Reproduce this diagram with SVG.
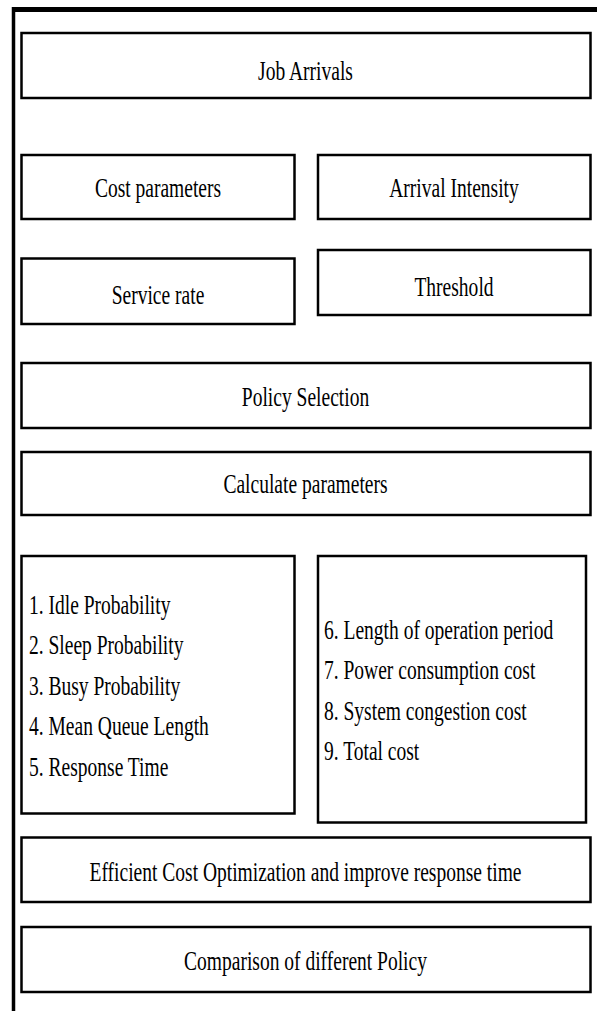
<svg xmlns="http://www.w3.org/2000/svg" width="601" height="1011" viewBox="0 0 601 1011">
<style>
.box{fill:#fff;stroke:#000;stroke-width:2.5}
.t{font-family:"Liberation Serif","Times New Roman",serif;font-size:28px;fill:#000}
.c{text-anchor:middle}
</style>
<rect width="601" height="1011" fill="#fff"/>
<g id="frame">
<line x1="13.5" y1="7" x2="13.5" y2="1011" stroke="#000" stroke-width="3.5"/>
<line x1="12" y1="9.5" x2="597" y2="9.5" stroke="#000" stroke-width="5"/>
</g>
<g id="connectors"></g>
<g id="job-arrivals"><rect class="box" x="21.5" y="33" width="569" height="65"/><text class="t c" transform="translate(305.5,80) scale(0.697,1)">Job Arrivals</text></g>
<g id="cost-parameters"><rect class="box" x="21.5" y="155" width="273" height="64"/><text class="t c" transform="translate(158,196.5) scale(0.697,1)">Cost parameters</text></g>
<g id="arrival-intensity"><rect class="box" x="318" y="155" width="272.5" height="64"/><text class="t c" transform="translate(454,196.5) scale(0.697,1)">Arrival Intensity</text></g>
<g id="service-rate"><rect class="box" x="21.5" y="258.5" width="273" height="65.5"/><text class="t c" transform="translate(158,303.5) scale(0.697,1)">Service rate</text></g>
<g id="threshold"><rect class="box" x="318" y="250" width="272.5" height="65"/><text class="t c" transform="translate(454,295.5) scale(0.697,1)">Threshold</text></g>
<g id="policy-selection"><rect class="box" x="21.5" y="363" width="569" height="65"/><text class="t c" transform="translate(305.5,405.5) scale(0.697,1)">Policy Selection</text></g>
<g id="calculate-parameters"><rect class="box" x="21.5" y="452" width="569" height="63"/><text class="t c" transform="translate(305.5,492.5) scale(0.697,1)">Calculate parameters</text></g>
<g id="metrics-left"><rect class="box" x="21.5" y="556" width="273" height="257.5"/>
<text class="t" transform="translate(29,613.5) scale(0.697,1)">1. Idle Probability</text>
<text class="t" transform="translate(29,654) scale(0.697,1)">2. Sleep Probability</text>
<text class="t" transform="translate(29,694.5) scale(0.697,1)">3. Busy Probability</text>
<text class="t" transform="translate(29,735) scale(0.697,1)">4. Mean Queue Length</text>
<text class="t" transform="translate(29,775.5) scale(0.697,1)">5. Response Time</text>
</g>
<g id="metrics-right"><rect class="box" x="318" y="556" width="268" height="266.5"/>
<text class="t" transform="translate(324,638.5) scale(0.697,1)">6. Length of operation period</text>
<text class="t" transform="translate(324,679) scale(0.697,1)">7. Power consumption cost</text>
<text class="t" transform="translate(324,719.5) scale(0.697,1)">8. System congestion cost</text>
<text class="t" transform="translate(324,760) scale(0.697,1)">9. Total cost</text>
</g>
<g id="efficient-cost"><rect class="box" x="21.5" y="837.5" width="569" height="64.5"/><text class="t c" transform="translate(305.5,880.5) scale(0.697,1)">Efficient Cost Optimization and improve response time</text></g>
<g id="comparison"><rect class="box" x="21.5" y="927" width="569" height="65"/><text class="t c" transform="translate(305.5,969.5) scale(0.697,1)">Comparison of different Policy</text></g>
</svg>
